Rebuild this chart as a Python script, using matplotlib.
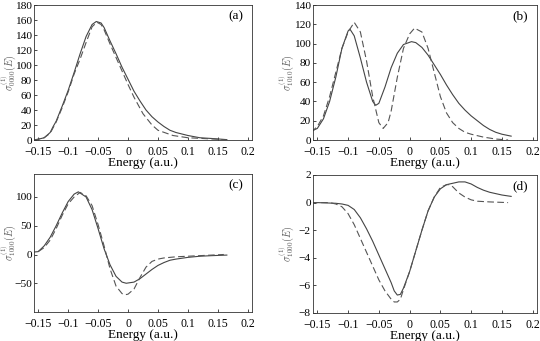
import numpy as np
import matplotlib
matplotlib.use("Agg")
import matplotlib.pyplot as plt

plt.rcParams["font.family"] = ["Liberation Serif", "DejaVu Serif"]
plt.rcParams["mathtext.fontset"] = "cm"

# panel (a)
xa_s = [-0.158, -0.15, -0.14, -0.13, -0.125, -0.12, -0.11, -0.1, -0.09, -0.08, -0.07, -0.06, -0.053,
        -0.045, -0.04, -0.03, -0.02, -0.01, 0.0, 0.01, 0.02, 0.03, 0.04, 0.05, 0.06, 0.07, 0.08,
        0.1, 0.12, 0.14, 0.165]
ya_s = [0, 1, 3, 10, 18, 25, 45, 66, 90, 115, 138, 154, 158,
        156, 150, 132, 115, 97, 81, 65, 52, 40, 31, 24, 18, 13, 10,
        6, 3, 2, 0.5]
xa_d = [-0.158, -0.15, -0.14, -0.13, -0.12, -0.11, -0.1, -0.09, -0.08, -0.07, -0.06, -0.052,
        -0.045, -0.04, -0.03, -0.02, -0.01, 0.0, 0.01, 0.025, 0.04, 0.05, 0.075, 0.1, 0.15, 0.165]
ya_d = [0, 1, 3, 9, 24, 43, 64, 88, 108, 130, 151, 157,
        154, 147, 128, 110, 92, 74, 57, 35, 20, 13, 6, 3, 1, 0]

# panel (b)
xb_s = [-0.16, -0.15, -0.14, -0.13, -0.12, -0.11, -0.1, -0.097, -0.09, -0.08, -0.07, -0.06, -0.055,
        -0.05, -0.04, -0.03, -0.02, -0.01, 0.003, 0.01, 0.02, 0.03, 0.04, 0.05, 0.06, 0.07, 0.08,
        0.09, 0.1, 0.11, 0.12, 0.13, 0.14, 0.15, 0.165]
yb_s = [9, 12, 22, 40, 65, 95, 113, 115, 108, 85, 60, 40, 36,
        38, 55, 75, 90, 99, 102, 101, 96, 88, 78, 68, 57, 47, 38,
        31, 25, 20, 15, 11, 8, 6, 4]
xb_d = [-0.16, -0.15, -0.14, -0.13, -0.12, -0.11, -0.1, -0.09, -0.08, -0.07, -0.06, -0.05, -0.043,
        -0.035, -0.03, -0.02, -0.01, 0.0, 0.008, 0.02, 0.03, 0.04, 0.05, 0.06, 0.07, 0.08, 0.09,
        0.1, 0.12, 0.14, 0.16]
yb_d = [8, 14, 25, 45, 70, 95, 112, 122, 112, 82, 45, 18, 12,
        18, 30, 65, 95, 110, 116, 112, 95, 70, 45, 28, 18, 12, 8,
        6, 3, 1, 0]

# panel (c)
xc_s = [-0.16, -0.15, -0.14, -0.13, -0.12, -0.11, -0.1, -0.09, -0.083, -0.07, -0.06, -0.05, -0.04,
        -0.03, -0.02, -0.01, -0.003, 0.01, 0.02, 0.03, 0.04, 0.05, 0.06, 0.07, 0.08, 0.1, 0.12,
        0.14, 0.165]
yc_s = [4, 5, 15, 30, 50, 72, 92, 105, 109, 100, 78, 45, 10,
        -18, -38, -48, -50, -48, -42, -34, -26, -19, -14, -10, -8, -5, -3,
        -2, -1]
xc_d = [-0.15, -0.14, -0.13, -0.12, -0.11, -0.1, -0.09, -0.08, -0.07, -0.06, -0.05, -0.04, -0.03,
        -0.02, -0.01, -0.005, 0.0, 0.01, 0.02, 0.03, 0.04, 0.05, 0.06, 0.08, 0.1, 0.12, 0.14, 0.16]
yc_d = [5, 12, 25, 45, 68, 88, 100, 108, 102, 85, 52, 15, -25,
        -55, -68, -70, -69, -60, -40, -22, -12, -8, -6, -4, -3, -2, -1, 0]

# panel (d)
xd_s = [-0.16, -0.15, -0.12, -0.11, -0.1, -0.09, -0.08, -0.07, -0.06, -0.05, -0.04, -0.03, -0.025,
        -0.02, -0.015, -0.01, 0.0, 0.01, 0.02, 0.03, 0.04, 0.05, 0.06, 0.07, 0.08, 0.09, 0.1,
        0.11, 0.12, 0.13, 0.14, 0.15, 0.165]
yd_s = [0, 0, -0.05, -0.1, -0.2, -0.5, -1.1, -1.9, -2.8, -3.8, -4.8, -5.8, -6.4,
        -6.7, -6.65, -6.2, -5.0, -3.5, -2.0, -0.6, 0.4, 1.0, 1.3, 1.4, 1.5, 1.5, 1.35,
        1.1, 0.9, 0.75, 0.65, 0.55, 0.45]
xd_d = [-0.16, -0.13, -0.12, -0.11, -0.1, -0.09, -0.08, -0.07, -0.06, -0.05, -0.04, -0.03, -0.025,
        -0.02, -0.015, -0.01, 0.0, 0.01, 0.02, 0.03, 0.04, 0.05, 0.06, 0.065, 0.07, 0.08, 0.09,
        0.1, 0.11, 0.13, 0.16]
yd_d = [0, 0, -0.1, -0.3, -0.8, -1.6, -2.6, -3.6, -4.6, -5.6, -6.4, -7.0, -7.2,
        -7.2, -7.0, -6.3, -5.0, -3.5, -2.0, -0.6, 0.4, 1.1, 1.3, 1.3, 1.15, 0.7, 0.4,
        0.2, 0.1, 0.05, 0]

panels = [
    ("(a)", r"$\sigma^{(1)}_{0000}(E)$", xa_s, ya_s, xa_d, ya_d, (0, 180), np.arange(0, 181, 20)),
    ("(b)", r"$\sigma^{(1)}_{1010}(E)$", xb_s, yb_s, xb_d, yb_d, (0, 140), np.arange(0, 141, 20)),
    ("(c)", r"$\sigma^{(1)}_{1000}(E)$", xc_s, yc_s, xc_d, yc_d, (-100, 140), [-50, 0, 50, 100]),
    ("(d)", r"$\sigma^{(1)}_{1000}(E)$", xd_s, yd_s, xd_d, yd_d, (-8, 2), np.arange(-8, 3, 2)),
]

# axes boxes in pixels: left, top, right, bottom, plus x of the y-label centre
boxes = [(34, 5, 252, 140, 8.5), (313, 5, 537, 140, 286),
         (34, 174, 252, 312, 8.5), (313, 175, 537, 313, 286)]

W, H = 540, 341
fig = plt.figure(figsize=(W / 100, H / 100), dpi=100)

for (tag, ylab, xs, ys, xd, yd, ylim, yticks), (l, t, r, b, lx) in zip(panels, boxes):
    ax = fig.add_axes([l / W, 1 - b / H, (r - l) / W, (b - t) / H])
    ax.plot(xs, ys, color="#444444", lw=0.8)
    ax.plot(xd, yd, color="#555555", lw=0.8, dashes=(6, 3))
    ax.set_xlim(-0.157, 0.207)
    ax.set_ylim(*ylim)
    ax.set_xticks([-0.15, -0.1, -0.05, 0, 0.05, 0.1, 0.15, 0.2])
    ax.set_xticklabels(["\u22120.15", "\u22120.1", "\u22120.05", "0", "0.05", "0.1", "0.15", "0.2"])
    ax.set_yticks(yticks)
    ax.set_yticklabels([("\u2212" + str(abs(int(v)))) if v < 0 else str(int(v)) for v in yticks])
    ax.tick_params(direction="in", length=2, width=0.5, labelsize=8.5)
    ax.tick_params(axis="y", pad=1.5, labelsize=8.2)
    ax.tick_params(axis="x", pad=4)
    for s in ax.spines.values():
        s.set_linewidth(0.6)
        s.set_color("#333333")
    ax.set_xlabel("Energy (a.u.)", fontsize=9.5, labelpad=-0.5)
    ax.set_ylabel(ylab, fontsize=7.2, color="#555555", va="center")
    ax.yaxis.set_label_coords((lx - l) / (r - l), 0.5)
    ax.text(0.96, 0.96, tag, transform=ax.transAxes, ha="right", va="top", fontsize=9.5)

fig.savefig("out.png", dpi=100)
